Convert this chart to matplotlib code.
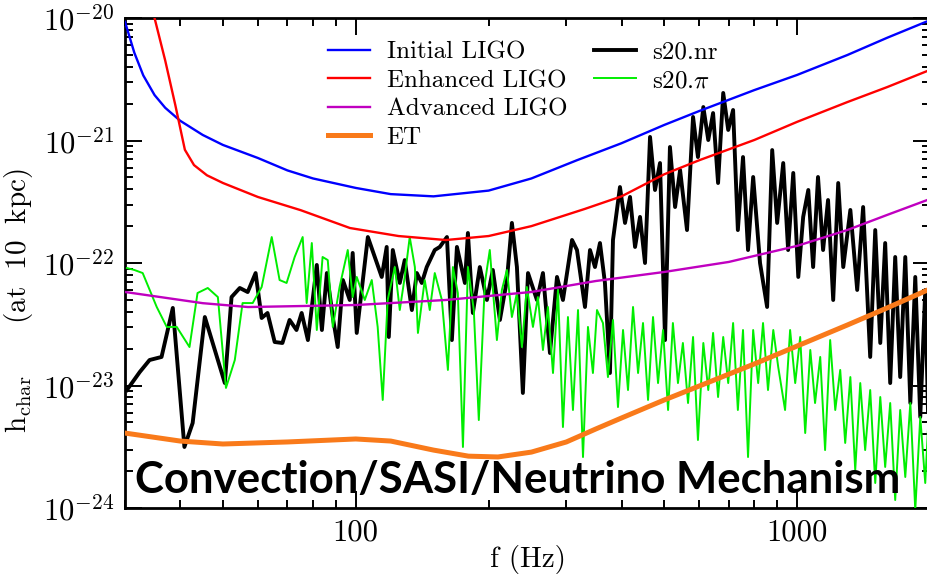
import matplotlib
matplotlib.use('Agg')
import matplotlib.pyplot as plt
import numpy as np
from matplotlib.ticker import NullFormatter, LogLocator

plt.rcParams['mathtext.fontset'] = 'cm'
plt.rcParams['font.family'] = 'serif'
plt.rcParams['font.serif'] = ['cmr10']
plt.rcParams['axes.formatter.use_mathtext'] = True

# detector sensitivity curves: frequency (Hz), h_char
init_f = [30, 31.5, 33, 35, 37, 40, 45, 50, 60, 70, 80, 100, 120, 150, 200, 250,
          317, 400, 500, 600, 800, 1000, 1300, 1600, 2000]
init_h = [9.3e-21, 5.2e-21, 3.4e-21, 2.35e-21, 1.85e-21, 1.45e-21, 1.11e-21, 9.2e-22,
          7.2e-22, 5.7e-22, 4.9e-22, 4.1e-22, 3.65e-22, 3.5e-22, 3.9e-22, 4.9e-22,
          6.9e-22, 9.5e-22, 1.34e-21, 1.74e-21, 2.58e-21, 3.43e-21, 4.99e-21, 6.9e-21, 9.6e-21]

enh_f = [35, 37, 39, 41, 43, 46, 50, 60, 75, 97, 125, 160, 200, 250, 330, 400,
         500, 600, 800, 1000, 1300, 1600, 2000]
enh_h = [1.0e-20, 4.5e-21, 1.95e-21, 8.4e-22, 6.3e-22, 5.2e-22, 4.5e-22, 3.46e-22,
         2.7e-22, 1.93e-22, 1.66e-22, 1.54e-22, 1.66e-22, 2.0e-22, 2.76e-22, 3.5e-22,
         5.3e-22, 6.9e-22, 1.01e-21, 1.42e-21, 2.06e-21, 2.73e-21, 3.77e-21]

adv_f = [30, 45, 57, 100, 160, 250, 350, 500, 700, 1000, 1300, 1600, 2000]
adv_h = [5.8e-23, 4.7e-23, 4.37e-23, 4.54e-23, 4.99e-23, 5.8e-23, 7.13e-23, 8.45e-23,
         1.02e-22, 1.38e-22, 1.86e-22, 2.47e-22, 3.33e-22]

et_f = [30, 40, 50, 70, 100, 120, 150, 180, 210, 250, 300, 350, 400, 500, 600, 800,
        1000, 1300, 1600, 2000]
et_h = [4.09e-24, 3.52e-24, 3.33e-24, 3.46e-24, 3.66e-24, 3.52e-24, 2.97e-24, 2.65e-24,
        2.61e-24, 2.86e-24, 3.46e-24, 4.42e-24, 5.43e-24, 7.62e-24, 9.9e-24, 1.50e-23,
        2.10e-23, 3.12e-23, 4.30e-23, 6.14e-23]

# s20.nr waveform spectrum: frequency (Hz), log10 h_char
nr_f = [30.3, 32.4, 34.1, 36.3, 38.5, 40.9, 42.7, 45.5, 50.5, 52.3, 54.6, 56.9, 59.3,
        61.2, 63.1, 65.5, 68.2, 70.8, 73.4, 75.4, 77.9, 81.6, 83.8, 86.0, 88.7, 91.0,
        93.5, 96.9, 98.4, 100.5, 106.5,
        110.4, 114.5, 117.5, 118.8, 121.3, 125.8, 129.1, 134.0, 137.5, 141.1, 144.8,
        151.0, 155.0, 160.9, 165.1, 169.5, 176.7, 179.5, 184.2, 191.0, 198.2, 204.4,
        212.1, 220.0, 225.8, 231.8, 239.1, 245.6, 257.3, 265.5, 275.4, 285.7, 294.7,
        309.0, 317.1,
        330.6, 339.4, 348.3, 357.5, 366.9, 376.6, 382.6, 396.8, 407.4, 418.2, 429.3,
        440.6, 452.2, 464.2, 476.4, 489.0, 502, 515, 529, 543, 563, 581, 596, 613, 629,
        645, 662, 680, 698, 716, 734, 754, 774, 795, 824, 855, 878, 901,
        930, 954, 980, 1006, 1032, 1060, 1087, 1115, 1145, 1175, 1207, 1239, 1272, 1320,
        1368, 1411, 1464, 1503, 1543, 1583, 1625, 1668, 1712, 1758, 1805, 1852, 1901,
        1951, 1982]
nr_logh = [-23.037, -22.890, -22.792, -22.767, -22.367, -23.502, -23.306, -22.441,
           -22.980, -22.278, -22.204, -22.237, -22.082, -22.449, -22.408, -22.645,
           -22.653, -22.465, -22.547, -22.408, -22.629, -22.016, -22.547, -22.082,
           -22.441, -22.686, -22.139, -22.302, -21.918, -22.571, -21.788,
           -21.951, -22.114, -21.869, -22.604, -21.894, -22.163, -21.976, -22.384,
           -22.082, -22.163, -22.033, -21.894, -21.869, -21.788, -22.629, -21.869,
           -22.163, -21.755, -22.408, -22.033, -22.302, -22.057, -22.465, -22.139,
           -21.673, -22.033, -23.061, -22.082, -22.302, -22.082, -22.735, -22.114,
           -22.302, -21.812, -21.894,
           -22.359, -21.894, -22.033, -21.837, -22.163, -22.898, -21.812, -21.380,
           -21.673, -21.461, -21.869, -21.624, -22.000, -20.971, -21.404, -21.184,
           -22.629, -21.053, -21.543, -21.241, -21.731, -20.808, -21.135, -20.727,
           -20.996, -20.776, -21.347, -20.612, -20.914, -20.751, -21.731, -21.135,
           -21.894, -21.298, -22.000, -22.359, -21.078, -21.673,
           -21.184, -21.894, -21.265, -22.114, -21.624, -21.404, -22.033, -21.298,
           -21.894, -21.486, -22.302, -21.347, -22.033, -21.567, -22.220, -21.543,
           -22.767, -21.731, -22.653, -21.837, -22.980, -21.951, -22.931, -21.951,
           -23.143, -22.114, -23.257, -22.220, -23.306]

# s20.pi waveform spectrum: frequency (Hz), log10 h_char
pi_f = [30.3, 31.5, 32.9, 35.4, 37.3, 39.3, 42.0, 43.8, 46.2, 48.7, 50.8, 53.2, 55.4,
        58.4, 61.2, 64.5, 67.2, 69.7, 72.7, 75.8, 77.4, 79.5, 81.6, 84.1, 86.4, 88.7,
        91.9, 95.9, 98.4,
        100.5, 104.8, 108.7, 112.1, 115.1, 118.1, 122.6, 125.8, 129.1, 132.5, 136.1,
        138.3, 143.3, 147.1, 151.0, 156.7, 161.7, 166.0, 170.3, 174.9, 179.5, 185.1,
        190.0, 196.1, 201.2, 208.8, 214.3, 220.0, 225.8, 231.8, 237.9, 244.1, 252.0,
        258.6, 265.5, 272.5, 279.8, 287.2, 294.7, 302.5, 310.5, 318.8, 327.2, 335.8,
        344.6, 352.0,
        363.1, 372.7, 382.6, 392.7, 403.2, 413.8, 424.8, 436.1, 447.5, 459.4, 471.5,
        484.0, 496.8, 510, 523, 537, 551, 566, 581, 596, 613, 629, 645, 662, 680, 698,
        716, 734, 754, 774, 795, 816, 837, 859, 883, 906,
        939, 964, 990, 1016, 1043, 1071, 1098, 1128, 1157, 1188, 1220, 1252, 1285, 1320,
        1354, 1390, 1426, 1464, 1503, 1543, 1583, 1625, 1668, 1712, 1758, 1805, 1852,
        1901, 1951, 1982]
pi_logh = [-22.041, -22.057, -22.082, -22.359, -22.522, -22.522, -22.686, -22.245,
           -22.204, -22.278, -23.020, -22.792, -22.327, -22.327, -22.196, -21.788,
           -22.139, -22.163, -21.951, -21.788, -22.327, -21.837, -22.547, -21.951,
           -21.976, -22.522, -22.196, -21.894, -22.278,
           -22.114, -22.302, -22.139, -22.522, -23.118, -22.302, -22.033, -22.384,
           -22.114, -21.788, -22.033, -22.571, -22.139, -22.384, -22.082, -22.302,
           -22.873, -22.033, -22.245, -23.502, -22.033, -22.384, -23.282, -22.163,
           -21.894, -22.629, -22.220, -22.057, -22.441, -22.245, -22.686, -22.196,
           -22.522, -22.278, -22.710, -22.359, -22.898, -22.220, -23.339, -22.441,
           -23.200, -22.384, -23.584, -22.522, -22.898, -22.384,
           -22.490, -22.931, -22.465, -23.176, -22.547, -23.037, -22.359, -22.898,
           -22.490, -23.118, -22.441, -22.980, -22.547, -23.200, -22.490, -22.980,
           -22.653, -23.143, -22.604, -23.445, -22.653, -23.037, -22.571, -23.094,
           -22.604, -22.980, -22.490, -23.200, -22.547, -23.584, -22.547, -22.980,
           -22.490, -23.037, -22.547, -22.849,
           -23.200, -22.547, -22.980, -22.604, -23.388, -22.710, -23.143, -22.767,
           -23.527, -22.629, -23.200, -22.873, -23.469, -22.931, -23.690, -22.980,
           -23.527, -23.037, -23.796, -23.094, -23.665, -23.143, -23.935, -23.200,
           -23.747, -23.143, -24.016, -23.257, -23.796, -23.306]

fig = plt.figure(figsize=(9.28, 5.74), dpi=100)
ax = fig.add_axes([125 / 928, 66 / 574, 805 / 928, 490 / 574])

nr_line, = ax.plot(nr_f, 10 ** np.array(nr_logh), color='black', lw=2.8,
                   label='s20.nr', zorder=2)
pi_line, = ax.plot(pi_f, 10 ** np.array(pi_logh), color='#00ee00', lw=1.4,
                   label=r's20.$\pi$', zorder=3)

l1, = ax.plot(init_f, init_h, color='#0000ff', lw=1.7, label='Initial LIGO', zorder=4)
l2, = ax.plot(enh_f, enh_h, color='#ff0000', lw=1.7, label='Enhanced LIGO', zorder=4)
l3, = ax.plot(adv_f, adv_h, color='#c000c0', lw=1.7, label='Advanced LIGO', zorder=4)
l4, = ax.plot(et_f, et_h, color='#f97a1a', lw=3.6, label='ET', zorder=4)

ax.set_xscale('log')
ax.set_yscale('log')
ax.set_xlim(30, 2000)
ax.set_ylim(1e-24, 1e-20)

ax.set_xticks([100, 1000])
ax.set_xticklabels(['100', '1000'])
ax.xaxis.set_minor_locator(LogLocator(base=10, subs=np.arange(2, 10)))
ax.xaxis.set_minor_formatter(NullFormatter())
ax.set_yticks([1e-24, 1e-23, 1e-22, 1e-21, 1e-20])
ax.set_yticklabels([r'$10^{-24}$', r'$10^{-23}$', r'$10^{-22}$', r'$10^{-21}$', r'$10^{-20}$'])
ax.yaxis.set_minor_locator(LogLocator(base=10, subs=np.arange(2, 10)))
ax.yaxis.set_minor_formatter(NullFormatter())

ax.tick_params(which='both', direction='in', top=True, right=True, width=1.4)
ax.tick_params(which='major', length=12, labelsize=22, pad=8)
ax.tick_params(which='minor', length=6)
for s in ax.spines.values():
    s.set_linewidth(2)

ax.set_xlabel('f (Hz)', fontsize=21, labelpad=-1)
ax.set_ylabel(r'$\mathrm{h_{char}}\qquad(\mathrm{at\ \ 10\ \ kpc})$', fontsize=21)
ax.yaxis.set_label_coords(-0.112, 0.424)

leg_kw = dict(loc='upper left', frameon=False, fontsize=18, handlelength=1.68,
              handletextpad=0.65, labelspacing=0.24, borderpad=0, borderaxespad=0)
leg1 = ax.legend(handles=[l1, l2, l3, l4], bbox_to_anchor=(0.2525, 0.953), **leg_kw)
ax.add_artist(leg1)
ax.legend(handles=[nr_line, pi_line], bbox_to_anchor=(0.582, 0.953), **leg_kw)

ax.text(0.012, 0.03, 'Convection/SASI/Neutrino Mechanism', transform=ax.transAxes,
        fontsize=31.5, fontweight='bold', family='Lato', va='baseline', zorder=6)

fig.savefig('out.png', dpi=100)
